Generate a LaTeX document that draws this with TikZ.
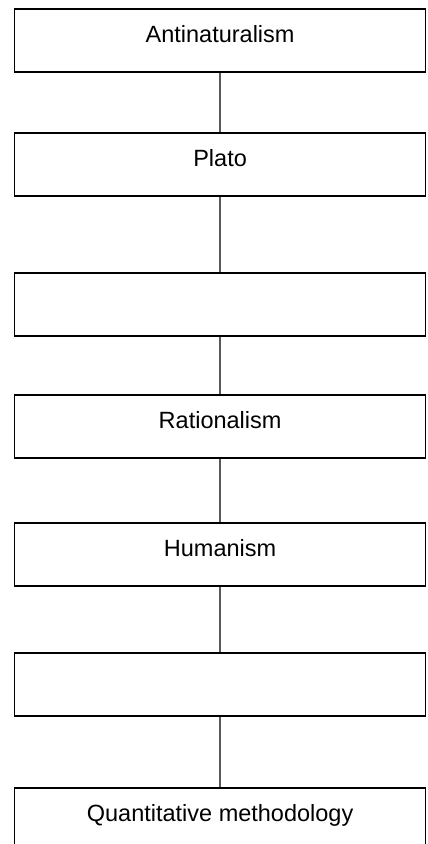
\documentclass[tikz,border=0pt]{standalone}
\usepackage{fontspec}
\setmainfont{Liberation Sans}
\usepackage{xcolor}
\usepackage{tikz}

\tikzset{
  stage/.style={draw=black,line width=1.5pt,fill=white,anchor=north,
    minimum width=410.8pt,inner xsep=0pt,inner ysep=0pt,
    text height=33.4pt,text depth=29.6pt,
    font=\fontsize{23.5}{28}\selectfont},
  link/.style={black!65,line width=1.3pt}
}

\begin{document}
\begin{tikzpicture}[x=1pt,y=-1pt]
			\clip (0,0) rectangle (428,844);
			\node[stage] (antinat) at (220.1,8) {Antinaturalism};
			\node[stage] (plato) at (220.1,132) {Plato};
			\node[stage] (blankA) at (220.1,272.3) {};
			\node[stage] (ratio) at (220.1,394) {Rationalism};
			\node[stage] (human) at (220.1,522.3) {Humanism};
			\node[stage] (blankB) at (220.1,652) {};
			\node[stage] (quant) at (220.1,787.3) {Quantitative methodology};
			\draw[link] (antinat.south) -- (plato.north);
			\draw[link] (plato.south) -- (blankA.north);
			\draw[link] (blankA.south) -- (ratio.north);
			\draw[link] (ratio.south) -- (human.north);
			\draw[link] (human.south) -- (blankB.north);
			\draw[link] (blankB.south) -- (quant.north);
		\end{tikzpicture}
\end{document}
